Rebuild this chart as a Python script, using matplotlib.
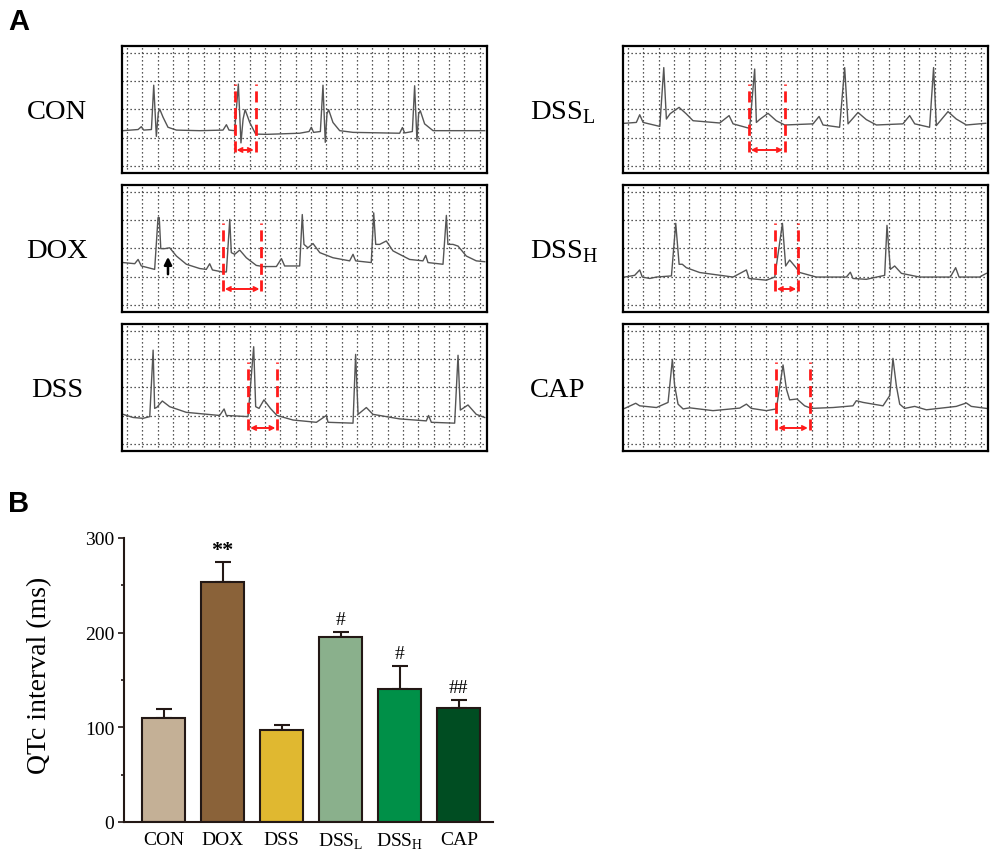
import matplotlib
matplotlib.use('Agg')
import matplotlib.pyplot as plt
import numpy as np

plt.rcParams['font.family'] = ['Liberation Serif', 'DejaVu Serif']
plt.rcParams['mathtext.fontset'] = 'custom'
plt.rcParams['mathtext.rm'] = 'Liberation Serif'

# ---- data: ECG traces (time, amplitude in grid squares) ----
con_t = [-0.26, 0.72, 0.93, 1.09, 1.59, 1.74, 1.91, 2.04, 2.13, 2.35, 2.67, 3.22, 4.74, 6.26, 6.48, 6.65, 7.02,
         7.26, 7.43, 7.57, 7.70, 8.00, 8.39, 9.09, 11.26, 11.87, 12.02, 12.17, 12.61, 12.78, 12.93, 13.04, 13.15,
         13.43, 13.87, 14.74, 17.78, 17.96, 18.11, 18.61, 18.76, 18.91, 19.02, 19.13, 19.41, 19.96, 23.33]
con_v = [1.25, 1.29, 1.39, 1.27, 1.29, 2.85, 1.05, 1.89, 2.01, 1.72, 1.37, 1.27, 1.25, 1.27, 1.46, 1.27, 1.25,
         2.89, 0.82, 1.66, 1.99, 1.54, 1.13, 1.12, 1.16, 1.22, 1.37, 1.19, 1.22, 2.85, 0.84, 1.84, 1.99,
         1.54, 1.25, 1.19, 1.16, 1.36, 1.17, 1.22, 2.83, 0.90, 1.84, 1.95, 1.49, 1.25, 1.25]

dox_t = [-0.26, 0.50, 0.72, 0.93, 1.80, 2.02, 2.10, 2.20, 2.46, 2.78, 3.22, 3.87, 4.74, 5.17, 5.39, 5.57, 6.22,
         6.48, 6.70, 6.80, 7.02, 7.35, 7.78, 8.43, 8.87, 9.74, 10.07, 10.28, 11.26, 11.43, 11.54, 11.80, 12.13,
         12.57, 13.43, 14.52, 14.74, 14.91, 15.93, 16.09, 16.22, 16.48, 16.91, 17.35, 18.43, 19.30, 19.48,
         19.63, 20.61, 20.83, 20.93, 21.26, 21.59, 22.13, 22.78, 23.33]
dox_v = [1.50, 1.46, 1.61, 1.38, 1.26, 3.08, 3.08, 1.99, 1.99, 2.02, 1.73, 1.44, 1.29, 1.26, 1.46, 1.24, 1.17,
         1.17, 3.02, 1.85, 1.79, 1.94, 1.67, 1.40, 1.36, 1.36, 1.64, 1.38, 1.38, 3.19, 2.14, 2.02, 2.17,
         1.85, 1.67, 1.56, 1.79, 1.56, 1.50, 3.25, 2.14, 2.14, 2.26, 1.91, 1.61, 1.56, 1.75,
         1.50, 1.44, 3.16, 2.14, 2.14, 2.08, 1.73, 1.56, 1.53]

dss_t = [-0.26, 0.39, 1.04, 1.48, 1.70, 1.80, 1.95, 2.30, 2.78, 3.87, 6.04, 6.33, 6.48, 7.89, 8.26, 8.39, 8.61,
         8.93, 9.35, 9.78, 10.83, 12.35, 13.00, 13.11, 14.74, 14.91, 15.07, 15.61, 16.04, 17.78, 19.52, 19.67,
         19.85, 21.37, 21.59, 21.74, 22.24, 22.78, 23.33]
dss_v = [1.05, 0.94, 0.91, 0.97, 3.31, 1.26, 1.30, 1.52, 1.32, 1.12, 1.01, 1.24, 1.01, 0.97, 3.43, 1.32, 1.26,
         1.56, 1.26, 1.01, 0.85, 0.77, 1.01, 0.77, 0.74, 3.16, 1.05, 1.29, 1.05, 0.89, 0.82, 1.01,
         0.77, 0.74, 3.13, 1.20, 1.38, 1.05, 0.94]

dssl_t = [-0.22, 0.54, 0.76, 0.98, 2.07, 2.33, 2.50, 2.75, 3.33, 3.80, 4.24, 5.98, 6.59, 6.85, 7.93, 8.26, 8.37,
          8.60, 9.13, 9.67, 10.22, 12.07, 12.46, 12.72, 13.80, 14.13, 14.35, 15.00, 15.54, 16.20, 17.93, 18.37,
          18.70, 19.67, 19.93, 20.11, 20.87, 21.41, 22.07, 23.33]
dssl_v = [1.51, 1.54, 1.81, 1.54, 1.40, 3.47, 1.66, 1.85, 2.07, 1.84, 1.60, 1.52, 1.78, 1.49, 1.33, 3.42, 1.54,
          1.65, 1.86, 1.60, 1.45, 1.49, 1.75, 1.45, 1.37, 3.47, 1.49, 1.89, 1.64, 1.45, 1.49, 1.78,
          1.49, 1.37, 3.47, 1.43, 1.92, 1.66, 1.45, 1.51]

dssh_t = [-0.22, 0.43, 0.76, 0.93, 1.41, 1.85, 2.83, 3.11, 3.33, 3.54, 3.80, 4.67, 6.85, 7.72, 7.89, 9.02, 9.57,
          10.07, 10.28, 10.54, 10.87, 11.20, 12.28, 14.24, 14.50, 14.67, 15.54, 16.74, 16.89, 17.11, 17.39,
          17.83, 19.02, 21.02, 21.37, 21.59, 22.93, 23.37]
dssh_v = [0.99, 1.05, 1.24, 0.99, 0.94, 0.99, 1.03, 2.88, 1.44, 1.44, 1.32, 1.15, 0.99, 1.24, 0.94, 0.88, 0.99,
          2.88, 1.38, 1.59, 1.38, 1.15, 0.99, 0.99, 1.16, 0.94, 0.91, 1.05, 2.81, 1.26, 1.38,
          1.12, 0.99, 0.99, 1.32, 0.99, 0.99, 1.12]

cap_t = [-0.22, 0.50, 0.76, 1.85, 2.61, 2.89, 3.04, 3.26, 3.59, 4.02, 5.54, 7.28, 7.72, 8.04, 9.02, 9.67, 10.11,
         10.33, 10.54, 11.02, 11.52, 11.96, 13.37, 14.67, 14.89, 15.33, 16.63, 17.07, 17.28, 17.50, 17.72,
         18.04, 18.70, 19.46, 21.41, 22.07, 22.39, 23.37]
cap_v = [1.26, 1.44, 1.35, 1.29, 1.47, 2.98, 2.06, 1.41, 1.24, 1.28, 1.18, 1.27, 1.41, 1.26, 1.18, 1.24, 2.79,
         1.94, 1.56, 1.59, 1.35, 1.26, 1.29, 1.35, 1.53, 1.47, 1.35, 1.71, 3.02, 2.06, 1.41,
         1.26, 1.33, 1.21, 1.33, 1.45, 1.33, 1.26]

# QT markers: (start, end) in grid squares
con_qt = (7.02, 8.39)
dox_qt = (6.26, 8.76)
dss_qt = (7.91, 9.80)
dssl_qt = (7.89, 10.22)
dssh_qt = (9.59, 11.09)
cap_qt = (9.67, 11.85)

# ---- data: QTc bar chart ----
groups = ['CON', 'DOX', 'DSS', r'DSS$_{\mathregular{L}}$', r'DSS$_{\mathregular{H}}$', 'CAP']
qtc = [110, 254, 97, 195, 141, 120]
qtc_err = [9, 21, 5, 6, 24, 9]
marks = ['', '**', '', '#', '#', '##']
bar_colors = ['#C4B096', '#8A6239', '#E0B830', '#8AB08C', '#009048', '#004D22']

W, H = 992, 854
fig = plt.figure(figsize=(W / 100, H / 100), dpi=100)


def px_axes(x0, y0, x1, y1):
    return fig.add_axes([x0 / W, 1 - y1 / H, (x1 - x0) / W, (y1 - y0) / H])


def ecg_panel(x0, y0, t, v, qt, label, lab_x, ha, arrow=None):
    ax = px_axes(x0, y0, x0 + 365, y0 + 127)
    ax.set_xlim(-0.33, 23.48)
    ax.set_ylim(-0.24, 4.23)
    for gx in range(24):
        ax.axvline(gx, color='#222222', lw=0.9, ls=(0, (1, 2.2)))
    for gy in range(5):
        ax.axhline(gy, color='#222222', lw=0.9, ls=(0, (1, 2.2)))
    ax.plot(t, v, color='#555555', lw=1.0)
    ax.vlines(qt, 0.5, 2.9, colors='#FF1A1A', lw=2.0, linestyles=(0, (4, 2)))
    ax.annotate('', xy=(qt[1] - 0.12, 0.57), xytext=(qt[0] + 0.12, 0.57),
                arrowprops=dict(arrowstyle='<->', color='#FF1A1A', lw=1.4, mutation_scale=7,
                                shrinkA=0, shrinkB=0))
    if arrow is not None:
        ax.annotate('', xy=(arrow[0], arrow[2]), xytext=(arrow[0], arrow[1]),
                    arrowprops=dict(arrowstyle='-|>', color='black', lw=1.8, mutation_scale=11,
                                    shrinkA=0, shrinkB=0))
    ax.set_xticks([])
    ax.set_yticks([])
    for s in ax.spines.values():
        s.set_linewidth(1.6)
    fig.text(lab_x / W, 1 - (y0 + 72) / H, label, ha=ha, va='baseline', fontsize=20.5)
    return ax


ecg_panel(122, 47, con_t, con_v, con_qt, 'CON', 57, 'center')
ecg_panel(122, 186, dox_t, dox_v, dox_qt, 'DOX', 57, 'center', arrow=(2.67, 1.09, 1.70))
ecg_panel(122, 325, dss_t, dss_v, dss_qt, 'DSS', 57, 'center')
ecg_panel(623, 47, dssl_t, dssl_v, dssl_qt, r'DSS$_{\mathregular{L}}$', 530, 'left')
ecg_panel(623, 186, dssh_t, dssh_v, dssh_qt, r'DSS$_{\mathregular{H}}$', 530, 'left')
ecg_panel(623, 325, cap_t, cap_v, cap_qt, 'CAP', 530, 'left')

fig.text(8 / W, 1 - 8 / H, 'A', ha='left', va='top', fontsize=21, fontweight='bold',
         family='Liberation Sans')
fig.text(8 / W, 1 - 490 / H, 'B', ha='left', va='top', fontsize=21, fontweight='bold',
         family='Liberation Sans')

# ---- bar chart ----
ax = px_axes(124, 539, 493, 823)
x = np.arange(len(groups))
edge = '#231815'
ax.bar(x, qtc, width=0.73, color=bar_colors, edgecolor=edge, linewidth=1.5, zorder=2)
ax.errorbar(x, qtc, yerr=[np.zeros(len(qtc)), qtc_err], fmt='none', ecolor=edge,
            elinewidth=1.5, capsize=5.5, capthick=1.5, zorder=1)
for xi, yi, ei, m in zip(x, qtc, qtc_err, marks):
    if m:
        if m == '**':
            ax.text(xi, yi + ei + 2, m, ha='center', va='bottom', fontsize=16, fontweight='bold')
        else:
            ax.text(xi, yi + ei + 4, m, ha='center', va='bottom', fontsize=14)
ax.set_xlim(-0.67, 5.58)
ax.set_ylim(0, 300)
ax.set_yticks([0, 100, 200, 300])
ax.set_yticks([50, 150, 250], minor=True)
ax.set_xticks(x)
ax.set_xticklabels(groups, fontsize=14)
ax.tick_params(axis='y', which='major', length=4, width=1.2, labelsize=14, pad=3, color=edge)
ax.tick_params(axis='y', which='minor', length=2.5, width=1.2, color=edge)
ax.tick_params(axis='x', length=0, pad=6.5)
for s in ['top', 'right']:
    ax.spines[s].set_visible(False)
for s in ['left', 'bottom']:
    ax.spines[s].set_linewidth(1.5)
    ax.spines[s].set_color(edge)
ax.set_ylabel('QTc interval (ms)', fontsize=20)
ax.yaxis.set_label_coords(-0.195, 0.52)

fig.savefig('out.png', dpi=100)
